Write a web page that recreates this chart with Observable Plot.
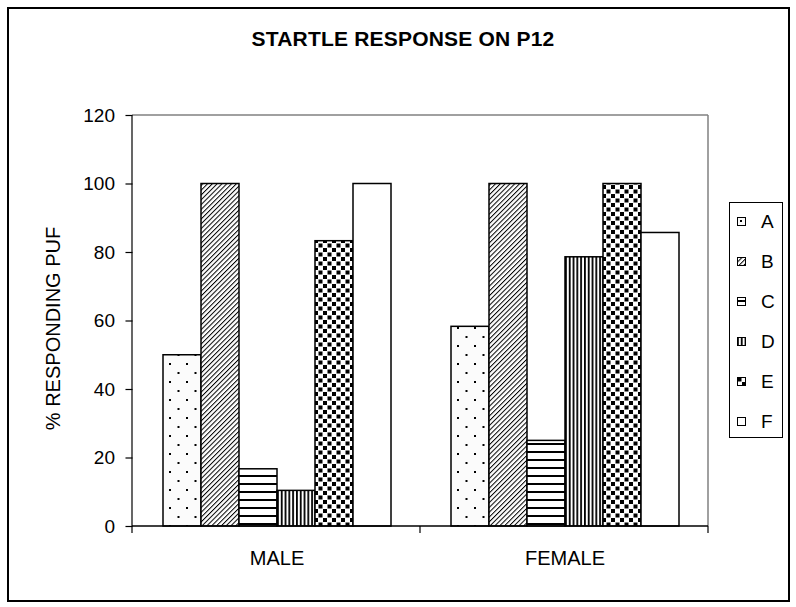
<!DOCTYPE html>
<html>
<head>
<meta charset="utf-8">
<script src="https://cdn.jsdelivr.net/npm/d3@7"></script>
<script src="https://cdn.jsdelivr.net/npm/@observablehq/plot@0.6"></script>
<style>
  html, body { margin: 0; padding: 0; background: #fff; }
  #wrap { position: relative; width: 796px; height: 607px; overflow: hidden; font-family: "Liberation Sans", Arial, sans-serif; color: #000; }
  #wrap svg.chart { position: absolute; left: 0; top: 0; }
  #title { position: absolute; top: 28px; left: 403px; transform: translateX(-50%); font-weight: bold; font-size: 21px; line-height: 21px; white-space: nowrap; letter-spacing: 0.2px; }
  #border { position: absolute; left: 7px; top: 7px; width: 783px; height: 595px; border: 2px solid #000; box-sizing: border-box; pointer-events: none; }
  #legend { position: absolute; left: 729px; top: 202px; width: 54px; height: 236px; border: 1px solid #000; box-sizing: border-box; background: #fff; }
  #legend .item { position: absolute; left: 0; height: 40px; width: 52px; }
  #legend .sw { position: absolute; left: 7px; top: 15px; }
  #legend .lab { position: absolute; left: 31px; top: 9px; font-size: 19px; line-height: 22px; }
</style>
</head>
<body>
<div id="wrap">
  <div id="chart"></div>
  <div id="title"></div>
  <div id="legend"></div>
  <div id="border"></div>
</div>
<script>
// ---- data ----
const title = "STARTLE RESPONSE ON P12";
const yLabel = "% RESPONDING PUF";
const groups = ["MALE", "FEMALE"];
const series = ["A", "B", "C", "D", "E", "F"];
const maleValues = [50, 100, 16.7, 10.4, 83.3, 100];
const femaleValues = [58.3, 100, 25, 78.6, 100, 85.7];
const yTicks = [0, 20, 40, 60, 80, 100, 120];

const valuesByGroup = [maleValues, femaleValues];
const data = groups.flatMap((g, gi) =>
  series.map((s, si) => ({group: g, series: s, value: valuesByGroup[gi][si]}))
);

// ---- layout ----
const W = 796, H = 607;
const M = {left: 132, right: 88, top: 115, bottom: 81};
const fxPadIn = 0.205, fxPadOut = 0.1025;
const plotW = W - M.left - M.right;
const fxStep = plotW / (groups.length - fxPadIn + 2 * fxPadOut);
const axisShift = fxPadOut * fxStep; // distance from frame edge to first facet

const hasAxisMarks = typeof Plot.axisY === "function";
const marks = [
  Plot.barY(data, {x: "series", y: "value", fill: "series", stroke: "#000", strokeWidth: 1.5})
];
if (hasAxisMarks) {
  marks.push(Plot.axisY({ticks: yTicks, tickSize: 7, tickPadding: 11, fontSize: 19, label: null, anchor: "left", stroke: "#000", strokeWidth: 1.2, dx: -axisShift}));
  marks.push(Plot.axisFx({anchor: "bottom", tickSize: 0, tickPadding: 24, fontSize: 20, label: null}));
}

const chart = Plot.plot({
  width: W,
  height: H,
  marginLeft: M.left,
  marginRight: M.right,
  marginTop: M.top,
  marginBottom: M.bottom,
  style: {fontFamily: "'Liberation Sans', Arial, sans-serif", fontSize: "19px", color: "#000", background: "transparent", overflow: "visible"},
  facet: {data, x: "group"},
  fx: {domain: groups, paddingInner: fxPadIn, paddingOuter: fxPadOut, label: null, axis: hasAxisMarks ? null : "bottom", tickSize: 0, tickPadding: 25},
  x: {domain: series, padding: 0, axis: null},
  y: {domain: [0, 120], ticks: yTicks, tickSize: 7, tickPadding: 11, label: null, axis: hasAxisMarks ? null : "left"},
  color: {domain: series, range: series.map(s => `url(#pat-${s})`)},
  marks
});
chart.classList.add("chart");
document.getElementById("chart").appendChild(chart);

const svg = d3.select(chart);

// ---- patterns ----
const defs = svg.insert("defs", ":first-child");
// A: sparse staggered dots
{
  const p = defs.append("pattern").attr("id", "pat-A").attr("patternUnits", "userSpaceOnUse").attr("width", 17).attr("height", 18);
  p.append("rect").attr("width", 17).attr("height", 18).attr("fill", "#fbfbfb");
  p.append("rect").attr("x", 3).attr("y", 3).attr("width", 2).attr("height", 2).attr("fill", "#000");
  p.append("rect").attr("x", 11.5).attr("y", 12).attr("width", 2).attr("height", 2).attr("fill", "#000");
}
// B: dense forward diagonal lines
{
  const p = defs.append("pattern").attr("id", "pat-B").attr("patternUnits", "userSpaceOnUse").attr("width", 3.4).attr("height", 3.4).attr("patternTransform", "rotate(45)");
  p.append("rect").attr("width", 3.4).attr("height", 3.4).attr("fill", "#fff");
  p.append("rect").attr("x", 0).attr("y", 0).attr("width", 1).attr("height", 3.4).attr("fill", "#000");
}
// C: horizontal lines
{
  const p = defs.append("pattern").attr("id", "pat-C").attr("patternUnits", "userSpaceOnUse").attr("width", 8).attr("height", 8);
  p.append("rect").attr("width", 8).attr("height", 8).attr("fill", "#fff");
  p.append("rect").attr("x", 0).attr("y", 3).attr("width", 8).attr("height", 2).attr("fill", "#000");
}
// D: vertical lines
{
  const p = defs.append("pattern").attr("id", "pat-D").attr("patternUnits", "userSpaceOnUse").attr("width", 3.8).attr("height", 4);
  p.append("rect").attr("width", 3.8).attr("height", 4).attr("fill", "#fff");
  p.append("rect").attr("x", 0).attr("y", 0).attr("width", 1.8).attr("height", 4).attr("fill", "#000");
}
// E: staggered small squares
{
  const p = defs.append("pattern").attr("id", "pat-E").attr("patternUnits", "userSpaceOnUse").attr("width", 9).attr("height", 9);
  p.append("rect").attr("width", 9).attr("height", 9).attr("fill", "#fff");
  p.append("rect").attr("x", 0.5).attr("y", 0.5).attr("width", 4).attr("height", 4).attr("fill", "#000");
  p.append("rect").attr("x", 5).attr("y", 5).attr("width", 4).attr("height", 4).attr("fill", "#000");
}
// F: plain white
{
  const p = defs.append("pattern").attr("id", "pat-F").attr("patternUnits", "userSpaceOnUse").attr("width", 4).attr("height", 4);
  p.append("rect").attr("width", 4).attr("height", 4).attr("fill", "#fff");
}

// ---- frame / axis lines ----
const x0 = M.left, x1 = W - M.right, y0 = M.top, y1 = H - M.bottom;
const g = svg.append("g");
g.append("line").attr("x1", x0).attr("x2", x1).attr("y1", y0).attr("y2", y0).attr("stroke", "#808080").attr("stroke-width", 1.5);
g.append("line").attr("x1", x1).attr("x2", x1).attr("y1", y0).attr("y2", y1).attr("stroke", "#808080").attr("stroke-width", 1.5);
g.append("line").attr("x1", x0).attr("x2", x0).attr("y1", y0).attr("y2", y1 + 7).attr("stroke", "#000").attr("stroke-width", 1.2);
g.append("line").attr("x1", x0).attr("x2", x1).attr("y1", y1).attr("y2", y1).attr("stroke", "#000").attr("stroke-width", 1.5);
const step = (x1 - x0) / groups.length;
for (let i = 1; i <= groups.length; i++) {
  const xb = x0 + i * step;
  g.append("line").attr("x1", xb).attr("x2", xb).attr("y1", y1).attr("y2", y1 + 7).attr("stroke", "#000").attr("stroke-width", 1.2);
}
// y-axis title
svg.append("text")
  .attr("transform", `translate(53,${(y0 + y1) / 2 + 8}) rotate(-90)`)
  .attr("text-anchor", "middle")
  .attr("dominant-baseline", "central")
  .attr("font-size", 20)
  .attr("fill", "#000")
  .text(yLabel);

// ---- title ----
document.getElementById("title").textContent = title;

// ---- legend ----
const legend = document.getElementById("legend");
series.forEach((s, i) => {
  const item = document.createElement("div");
  item.className = "item";
  item.style.top = (-1 + i * 40) + "px";
  item.innerHTML = `<svg class="sw" width="9" height="9"><rect x="0.5" y="0.5" width="8" height="8" fill="url(#pat-${s})" stroke="#000" stroke-width="1"/></svg><span class="lab">${s}</span>`;
  legend.appendChild(item);
});
</script>
</body>
</html>
